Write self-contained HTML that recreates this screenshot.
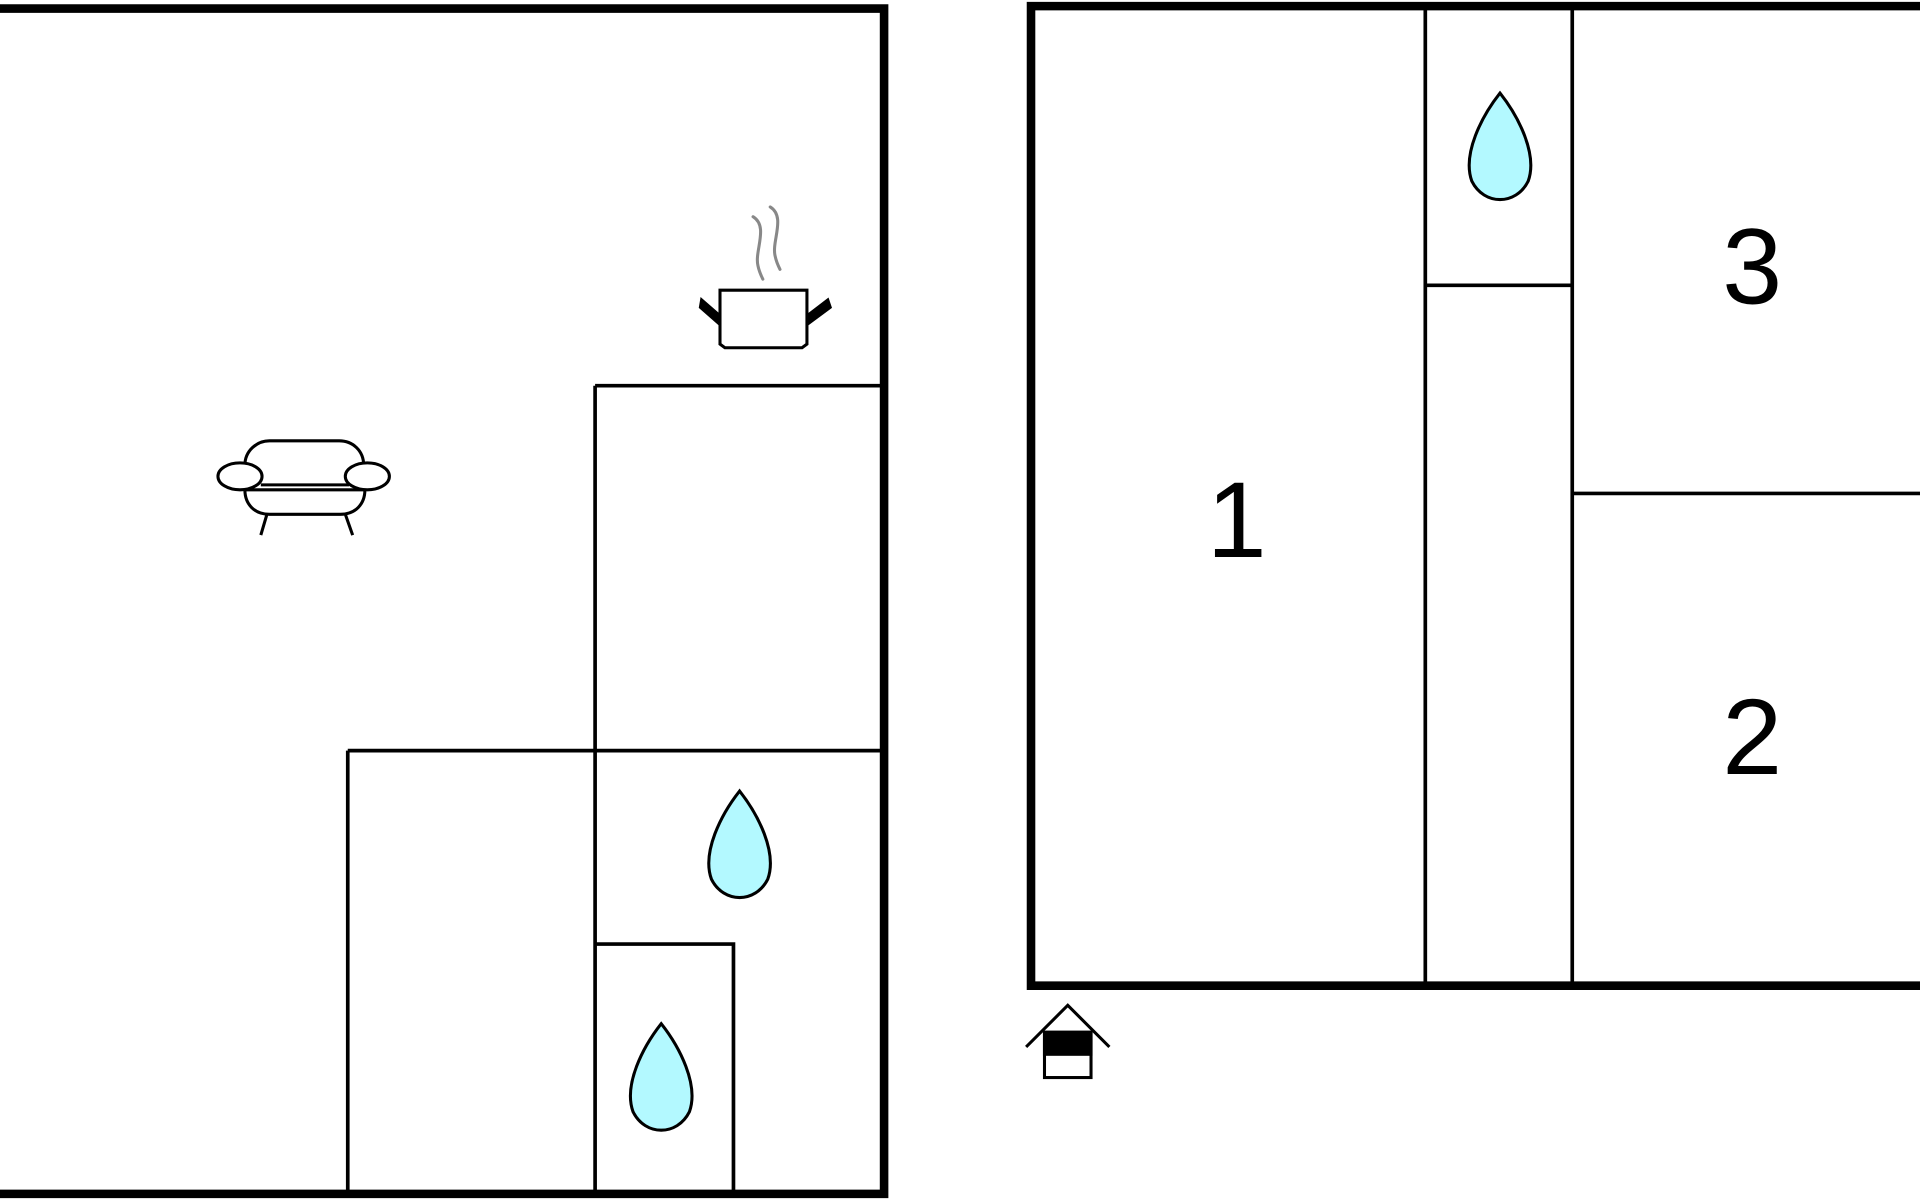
<!DOCTYPE html>
<html><head><style>html,body{margin:0;padding:0;background:#fff;width:1920px;height:1200px;overflow:hidden}</style></head>
<body>
<svg width="1920" height="1200" viewBox="0 0 1568 980" xmlns="http://www.w3.org/2000/svg">
<rect width="1568" height="980" fill="#fff"/>
<g stroke="#000" fill="none">
<!-- left plan outer -->
<path d="M0,7 H722 V975 H0" stroke-width="7"/>
<!-- left internal -->
<g stroke-width="3">
<path d="M486,315 H720"/>
<path d="M486,315 V975"/>
<path d="M284,613 H720"/>
<path d="M284,613 V975"/>
<path d="M486,771 H599 V975"/>
</g>
<!-- right plan outer -->
<path d="M1568,5 H842 V805 H1568" stroke-width="7"/>
<g stroke-width="3">
<path d="M1164,5 V805"/>
<path d="M1284,5 V805"/>
<path d="M1164,233 H1284"/>
<path d="M1284,403 H1568"/>
</g>
</g>
<!-- drops -->
<g fill="#b3f9ff" stroke="#000" stroke-width="2.5">
<path d="M1225,76 C1210,95 1194,126 1202,148 C1212,168 1238,168 1248,148 C1256,126 1240,95 1225,76Z"/>
<path d="M604,646 C589,665 573,696 581,718 C591,738 617,738 627,718 C635,696 619,665 604,646Z"/>
<path d="M540,836 C525,855 509,886 517,908 C527,928 553,928 563,908 C571,886 555,855 540,836Z"/>
</g>
<!-- pot -->
<g stroke="#000" stroke-width="2.5" fill="none">
<path d="M588,237 H659 V281 L655,284 H592 L588,281 Z"/>
<path d="M588,265 L572,251 L573,245 L588,258" fill="#000"/>
<path d="M659,265 L678,251 L676,245 L659,258" fill="#000"/>
</g>
<g stroke="#888" stroke-width="2.5" fill="none" stroke-linecap="round">
<path d="M615,177 C628,185 616,205 619,217 C620,222 622,226 623,228"/>
<path d="M629,169 C642,177 630,197 633,209 C634,214 636,218 637,220"/>
</g>
<!-- sofa -->
<g stroke="#000" stroke-width="2.5" fill="#fff">
<path d="M200,380 C200,368 210,360 220,360 H277 C288,360 297,368 297,380"/>
<path d="M200,400 C200,412 208,420 220,420 H278 C290,420 298,412 298,400 Z"/>
<path d="M213,396 H285"/>
<ellipse cx="196" cy="389" rx="18" ry="11"/>
<ellipse cx="300" cy="389" rx="18" ry="11"/>
<path d="M218,420 L213,437 M282,420 L288,437" fill="none"/>
</g>
<!-- entrance -->
<g stroke="#000" stroke-width="2.5" fill="none">
<path d="M838,855 L872,821 L906,855"/>
<rect x="853" y="843" width="38" height="37" fill="#fff"/>
<rect x="853" y="843" width="38" height="18" fill="#000"/>
</g>
<!-- numbers -->
<g font-family="Liberation Sans, sans-serif" font-size="88" fill="#000" text-anchor="middle">
<text x="1010" y="455">1</text>
<text x="1431" y="248">3</text>
<text x="1431" y="632">2</text>
</g>
</svg>
</body></html>
